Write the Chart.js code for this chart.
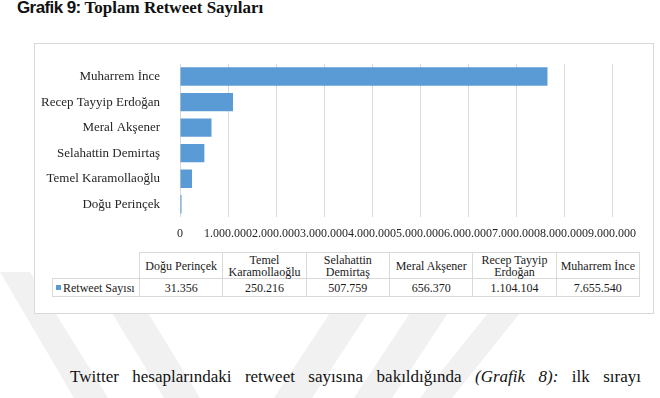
<!DOCTYPE html>
<html>
<head>
<meta charset="utf-8">
<script src="https://cdn.jsdelivr.net/npm/chart.js@4.4.1/dist/chart.umd.min.js"></script>
<style>
  body { margin: 0; width: 660px; height: 398px; background: #fff; position: relative; overflow: hidden;
         font-family: 'Liberation Serif', serif; color: #111; }
  #wm { position: absolute; left: 0; top: 0; }
  #title { position: absolute; left: 17px; top: -2px; font-size: 17px; font-weight: bold; white-space: nowrap; }
  #title .lbl { font-family: 'Liberation Sans', sans-serif; font-size: 17px; letter-spacing: -0.6px; }
  #box { position: absolute; left: 34px; top: 43px; width: 618px; height: 269px; border: 1px solid #d9d9d9; background: #fff; }
  #chart { position: absolute; left: 35px; top: 44px; }
  #tbl { position: absolute; left: 52px; top: 252px; border-collapse: collapse; table-layout: fixed; font-size: 12px; color: #1a1a1a; }
  #tbl td { border: 1px solid #d9d9d9; text-align: center; padding: 0; line-height: 12px; }
  #tbl tr.head td { height: 25px; }
  #tbl tr.vals td { height: 17px; }
  #tbl td.blank { border: none; }
  #tbl td.leg { text-align: left; padding-left: 3px; white-space: nowrap; }
  #tbl .key { display: inline-block; width: 5px; height: 5px; background: #5b9bd5; margin-right: 2px; vertical-align: 2px; }
  #para { position: absolute; left: 70px; top: 367px; width: 571px; font-size: 17px; text-align: justify; text-align-last: justify; white-space: nowrap; }
</style>
</head>
<body>
<svg id="wm" width="660" height="398">
  <g fill="#f1f1f1">
    <polygon points="0,272 30,272 108,398 74,398"/>
    <polygon points="112,313 148,313 200,398 164,398"/>
    <polygon points="330,313 368,313 312,398 274,398"/>
    <polygon points="410,313 448,313 392,398 354,398"/>
    <polygon points="488,313 520,313 452,398 420,398"/>
  </g>
</svg>
<div id="title"><span class="lbl">Grafik 9:</span> Toplam Retweet Sayıları</div>
<div id="box"></div>
<canvas id="chart" width="617" height="198"></canvas>
<table id="tbl"></table>
<div id="para">Twitter hesaplarındaki retweet sayısına bakıldığında <i>(Grafik 8):</i> ilk sırayı</div>

<script>
// Data as it appears in the data table (bottom to top on the chart)
const candidates = ['Doğu Perinçek', 'Temel Karamollaoğlu', 'Selahattin Demirtaş', 'Meral Akşener', 'Recep Tayyip Erdoğan', 'Muharrem İnce'];
const tableHeads = [['Doğu Perinçek'], ['Temel', 'Karamollaoğlu'], ['Selahattin', 'Demirtaş'], ['Meral Akşener'], ['Recep Tayyip', 'Erdoğan'], ['Muharrem İnce']];
const seriesName = 'Retweet Sayısı';
const retweets = [31356, 250216, 507759, 656370, 1104104, 7655540];
const axisMax = 9000000;
const axisStep = 1000000;

const serif = "'Liberation Serif', serif";
const barBlue = '#5b9bd5';

// 1.000.000 style numbers
function fmt(n) {
  return String(Math.round(n)).replace(/\B(?=(\d{3})+(?!\d))/g, '.');
}

// Data table under the chart
const tbl = document.getElementById('tbl');
let head = '<colgroup><col style="width:87px">' + candidates.map(() => '<col style="width:83.33px">').join('') + '</colgroup>';
head += '<tr class="head"><td class="blank"></td>' + tableHeads.map(h => '<td>' + h.join('<br>') + '</td>').join('') + '</tr>';
head += '<tr class="vals"><td class="leg"><span class="key"></span>' + seriesName + '</td>' + retweets.map(v => '<td>' + fmt(v) + '</td>').join('') + '</tr>';
tbl.innerHTML = head;

const ctx = document.getElementById('chart').getContext('2d');

new Chart(ctx, {
  type: 'bar',
  data: {
    labels: candidates,
    datasets: [{
      label: seriesName,
      data: retweets,
      backgroundColor: barBlue,
      borderWidth: 0,
      barPercentage: 0.72,
      categoryPercentage: 1
    }]
  },
  options: {
    indexAxis: 'y',
    responsive: false,
    animation: false,
    layout: { padding: { top: 14, right: 40, left: 0, bottom: 0 } },
    plugins: { legend: { display: false }, tooltip: { enabled: false } },
    scales: {
      x: {
        min: 0,
        max: axisMax,
        grid: { color: '#d9d9d9', drawTicks: false },
        border: { display: false },
        ticks: {
          stepSize: axisStep,
          autoSkip: false,
          maxRotation: 0,
          minRotation: 0,
          padding: 10,
          color: '#262626',
          font: { family: serif, size: 12 },
          callback: v => fmt(v)
        },
        afterFit: s => { s.height = 25; }
      },
      y: {
        reverse: true,
        grid: { display: false },
        border: { display: false },
        ticks: {
          padding: 12,
          color: '#262626',
          font: { family: serif, size: 13 }
        },
        afterFit: s => { s.width = 145; }
      }
    }
  }
});
</script>
</body>
</html>
